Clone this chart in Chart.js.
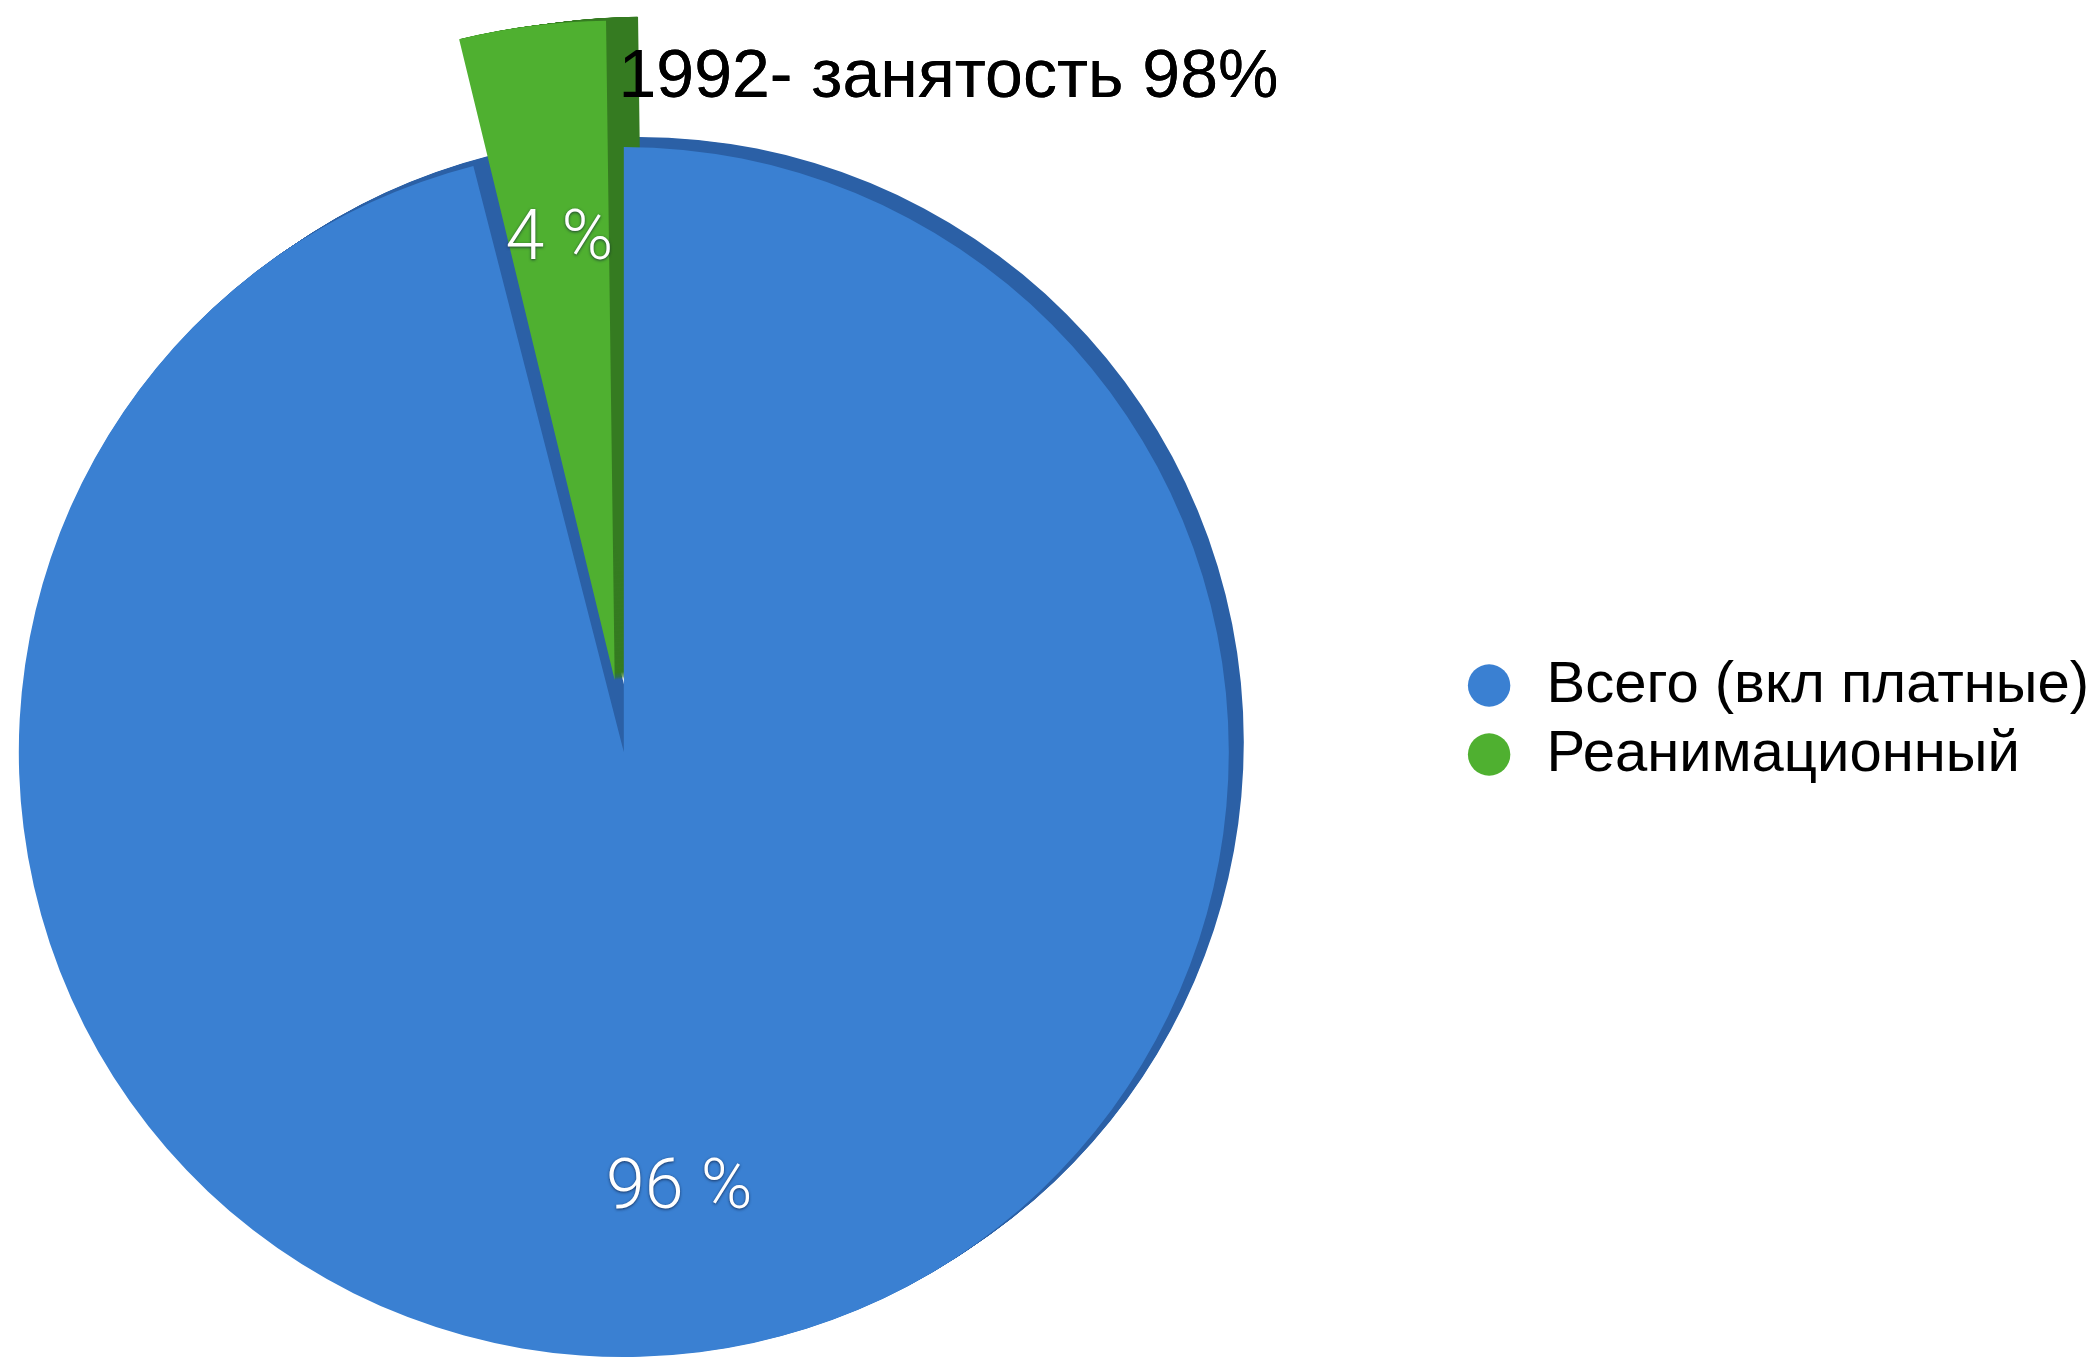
<!DOCTYPE html>
<html>
<head>
<meta charset="utf-8">
<script src="https://cdn.jsdelivr.net/npm/chart.js@4/dist/chart.umd.min.js"></script>
<style>
  html, body { margin: 0; padding: 0; background: #fff; overflow: hidden; }
  #wrap { position: relative; width: 2099px; height: 1360px; overflow: hidden; }
  /* canvas sticks out on the left so the pie can sit left of the legend */
  #box { position: absolute; left: -202px; top: 0; width: 2301px; height: 1360px; }
</style>
</head>
<body>
<div id="wrap"><div id="box"><canvas id="occupancy"></canvas></div></div>
<script>
let title = "1992- занятость 98%";
let labels = ["Всего (вкл платные)", "Реанимационный"];
let shares = [96, 4];
let colors = ["#3a80d2", "#4fb030"];
let sideColors = ["#2b60a6", "#357b21"];

// fake 3d side: sweep each slice to the right/up in a darker colour, before the faces
let depthPlugin = {
  id: "depth",
  beforeDatasetsDraw(chart) {
    let ctx = chart.ctx;
    let shifts = [[15, -10], [32, -4]];
    chart.getDatasetMeta(0).data.forEach((arc, i) => {
      let orig = arc.options;
      arc.options = Object.assign({}, orig, { backgroundColor: sideColors[i], borderWidth: 0 });
      let steps = Math.max(Math.abs(shifts[i][0]), Math.abs(shifts[i][1]));
      for (let k = 1; k <= steps; k++) {
        ctx.save();
        ctx.translate((shifts[i][0] * k) / steps, (shifts[i][1] * k) / steps);
        arc.draw(ctx);
        ctx.restore();
      }
      arc.options = orig;
    });
  },
};

let percentPlugin = {
  id: "percent",
  afterDatasetsDraw(chart) {
    let ctx = chart.ctx;
    ctx.save();
    ctx.font = "300 70px Roboto, 'Liberation Sans', sans-serif";
    ctx.textAlign = "center";
    ctx.textBaseline = "middle";
    ctx.fillStyle = "#ffffff";
    ctx.shadowColor = "rgba(10,20,50,0.7)";
    ctx.shadowOffsetX = 0;
    ctx.shadowOffsetY = 1;
    ctx.shadowBlur = 3;
    chart.getDatasetMeta(0).data.forEach((arc, i) => {
      let p = arc.getProps(["x", "y", "startAngle", "endAngle", "outerRadius"], true);
      let mid = (p.startAngle + p.endAngle) / 2;
      let r = p.outerRadius * 0.73 + (arc.options.offset || 0) / 4;
      ctx.fillText(shares[i] + " %", p.x + Math.cos(mid) * r, p.y + Math.sin(mid) * r);
    });
    ctx.restore();
    // title goes over the raised slice, not under it
    chart.titleBlock.draw();
  },
};

let ctx = document.getElementById("occupancy").getContext("2d");
new Chart(ctx, {
  type: "pie",
  data: {
    labels: labels,
    datasets: [
      {
        data: shares,
        backgroundColor: colors,
        borderWidth: 0,
        offset: [0, 290],
        radius: 605,
      },
    ],
  },
  options: {
    responsive: true,
    maintainAspectRatio: false,
    animation: false,
    layout: {
      padding: { left: 0, right: 0, top: 39, bottom: -41 },
    },
    plugins: {
      tooltip: { enabled: false },
      title: {
        display: true,
        text: title,
        color: "#000",
        align: "center",
        font: { family: "'Liberation Sans', Arial, sans-serif", size: 68, weight: "normal", lineHeight: 1 },
        padding: { top: 5, bottom: 32 },
      },
      legend: {
        position: "right",
        align: "center",
        labels: {
          usePointStyle: true,
          pointStyle: "circle",
          boxWidth: 57,
          boxHeight: 30,
          padding: 11,
          color: "#000",
          font: { family: "'Liberation Sans', Arial, sans-serif", size: 58 },
        },
      },
    },
  },
  plugins: [depthPlugin, percentPlugin],
});
</script>
</body>
</html>
